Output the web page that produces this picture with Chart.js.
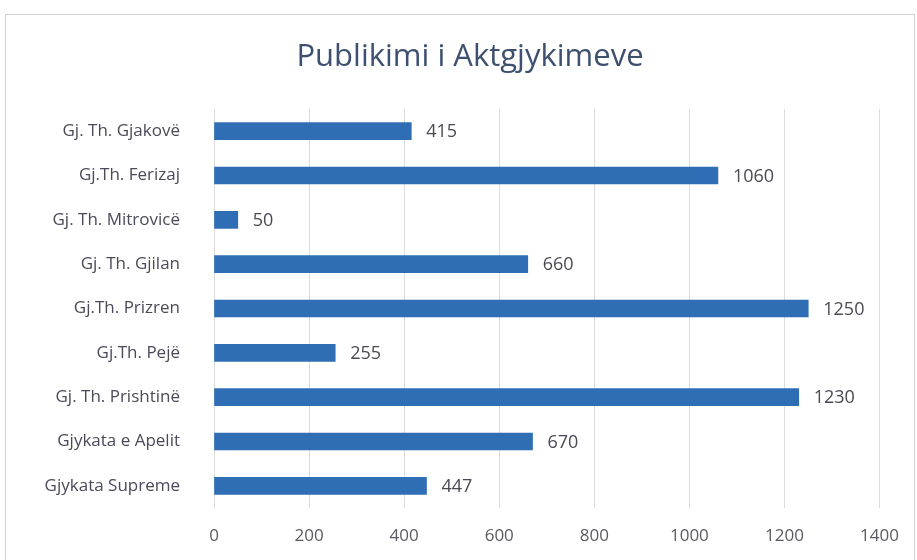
<!DOCTYPE html>
<html><head><meta charset="utf-8">
<script src="https://cdn.jsdelivr.net/npm/chart.js@4/dist/chart.umd.min.js"></script>
<style>html,body{margin:0;padding:0;background:#fff}#wrap{width:917px;height:560px;position:relative}</style>
</head><body><div id="wrap"><canvas id="c" width="917" height="560"></canvas></div>
<script>
const titleText = "Publikimi i Aktgjykimeve";
const categories = ["Gj. Th. Gjakovë","Gj.Th. Ferizaj","Gj. Th. Mitrovicë","Gj. Th. Gjilan","Gj.Th. Prizren","Gj.Th. Pejë","Gj. Th. Prishtinë","Gjykata e Apelit","Gjykata Supreme"];
const values = [415,1060,50,660,1250,255,1230,670,447];
const xTicks = [0,200,400,600,800,1000,1200,1400];

const FONT = "'Open Sans', sans-serif";
const frame = {id:'frame', beforeDraw(ch){const c=ch.ctx;c.save();c.fillStyle='#fff';c.fillRect(0,0,ch.width,ch.height);c.strokeStyle='#d0d0d0';c.lineWidth=1;c.strokeRect(5.5,14.5,909,560);c.restore();}};
const titlePl = {id:'titlePl', afterDraw(ch){const c=ch.ctx;c.save();c.font="31px "+FONT;c.fillStyle='#3e5070';c.textAlign='center';c.textBaseline='middle';c.fillText(titleText,470,57);c.restore();}};
const labels = {id:'vlabels', afterDatasetsDraw(ch){const c=ch.ctx;const meta=ch.getDatasetMeta(0);c.save();c.font="18px "+FONT;c.fillStyle='#4a4a55';c.textAlign='left';c.textBaseline='middle';meta.data.forEach((el,i)=>{c.fillText(String(values[i]),el.x+15,el.y+1);});c.restore();}};

new Chart(document.getElementById('c'),{
  type:'bar',
  data:{labels:categories,datasets:[{data:values,backgroundColor:'#2f6eb5',barThickness:17}]},
  options:{
    indexAxis:'y',responsive:false,animation:false,
    layout:{padding:{left:0,right:37,top:109,bottom:0}},
    plugins:{legend:{display:false},tooltip:{enabled:false},title:{display:false}},
    scales:{
      x:{min:0,max:1400,afterBuildTicks(s){s.ticks=xTicks.map(v=>({value:v}));},
        afterFit(s){s.height=52;},
        grid:{color:'#dcdcdc',drawTicks:false},border:{display:false},
        ticks:{padding:18,color:'#5a5a62',font:{family:FONT,size:17},callback:(v)=>String(v)}},
      y:{afterFit(s){s.width=214;},grid:{display:false},border:{display:false},
        ticks:{padding:26,color:'#4a4a5a',font:{family:FONT,size:17}}}
    }
  },
  plugins:[frame,labels,titlePl]
});
</script></body></html>
